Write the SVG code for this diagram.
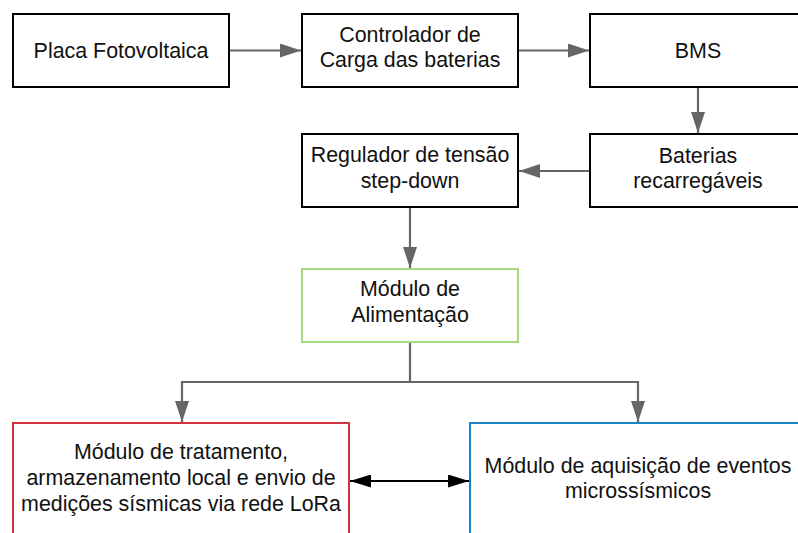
<svg xmlns="http://www.w3.org/2000/svg" width="798" height="533" viewBox="0 0 798 533">
<style>
.box{fill:#ffffff;stroke:#000000;stroke-width:2}
.t{font-family:"Liberation Sans",Arial,sans-serif;font-size:21.4px;fill:#111111;text-anchor:middle}
.c{fill:none;stroke:#666666;stroke-width:2.2}
.d{fill:none;stroke:#000000;stroke-width:1.8}
</style>
<defs>
<marker id="ag" markerUnits="userSpaceOnUse" markerWidth="21" markerHeight="14" refX="21" refY="7" orient="auto">
<path d="M0,0 L21,7 L0,14 z" fill="#666666"/>
</marker>
<marker id="ab" markerUnits="userSpaceOnUse" markerWidth="21" markerHeight="13" refX="21" refY="6.5" orient="auto">
<path d="M0,0 L21,6.5 L0,13 z" fill="#000000"/>
</marker>
<marker id="abs" markerUnits="userSpaceOnUse" markerWidth="21" markerHeight="13" refX="0" refY="6.5" orient="auto">
<path d="M21,0 L0,6.5 L21,13 z" fill="#000000"/>
</marker>
</defs>
<rect width="798" height="533" fill="#ffffff"/>
<g id="connectors">
<line class="c" x1="230" y1="50.5" x2="301" y2="50.5" marker-end="url(#ag)"/>
<line class="c" x1="518" y1="50.5" x2="589" y2="50.5" marker-end="url(#ag)"/>
<line class="c" x1="698" y1="87" x2="698" y2="133" marker-end="url(#ag)"/>
<line class="c" x1="590" y1="171" x2="519" y2="171" marker-end="url(#ag)"/>
<line class="c" x1="410" y1="207" x2="410" y2="268" marker-end="url(#ag)"/>
<path class="c" d="M410,342 L410,382 L182,382 L182,422" marker-end="url(#ag)"/>
<path class="c" d="M410,382 L638,382 L638,422" marker-end="url(#ag)"/>
<line class="d" x1="350" y1="481" x2="469" y2="481" marker-start="url(#abs)" marker-end="url(#ab)"/>
</g>
<g id="placa">
<rect class="box" x="13" y="14" width="216" height="73"/>
<text class="t" x="121" y="57.5">Placa Fotovoltaica</text>
</g>
<g id="controlador">
<rect class="box" x="302" y="14" width="216" height="73"/>
<text class="t" x="410" y="42">Controlador de</text>
<text class="t" x="410" y="67">Carga das baterias</text>
</g>
<g id="bms">
<rect class="box" x="590" y="14" width="216" height="73"/>
<text class="t" x="698" y="57.5">BMS</text>
</g>
<g id="baterias">
<rect class="box" x="590" y="134" width="216" height="73"/>
<text class="t" x="698" y="163">Baterias</text>
<text class="t" x="698" y="188">recarregáveis</text>
</g>
<g id="regulador">
<rect class="box" x="302" y="134" width="216" height="73"/>
<text class="t" x="410" y="162">Regulador de tensão</text>
<text class="t" x="410" y="188">step-down</text>
</g>
<g id="alimentacao">
<rect x="302" y="269" width="216" height="73" fill="#ffffff" stroke="#a6d97e" stroke-width="2"/>
<text class="t" x="410" y="296">Módulo de</text>
<text class="t" x="410" y="322">Alimentação</text>
</g>
<g id="tratamento">
<rect x="13" y="423" width="336" height="130" fill="#ffffff" stroke="#d2333f" stroke-width="2"/>
<text class="t" x="181" y="459">Módulo de tratamento,</text>
<text class="t" x="181" y="485">armazenamento local e envio de</text>
<text class="t" x="181" y="511">medições sísmicas via rede LoRa</text>
</g>
<g id="aquisicao">
<rect x="470" y="423" width="336" height="130" fill="#ffffff" stroke="#1a84c6" stroke-width="2"/>
<text class="t" x="638" y="473">Módulo de aquisição de eventos</text>
<text class="t" x="638" y="498">microssísmicos</text>
</g>
</svg>
